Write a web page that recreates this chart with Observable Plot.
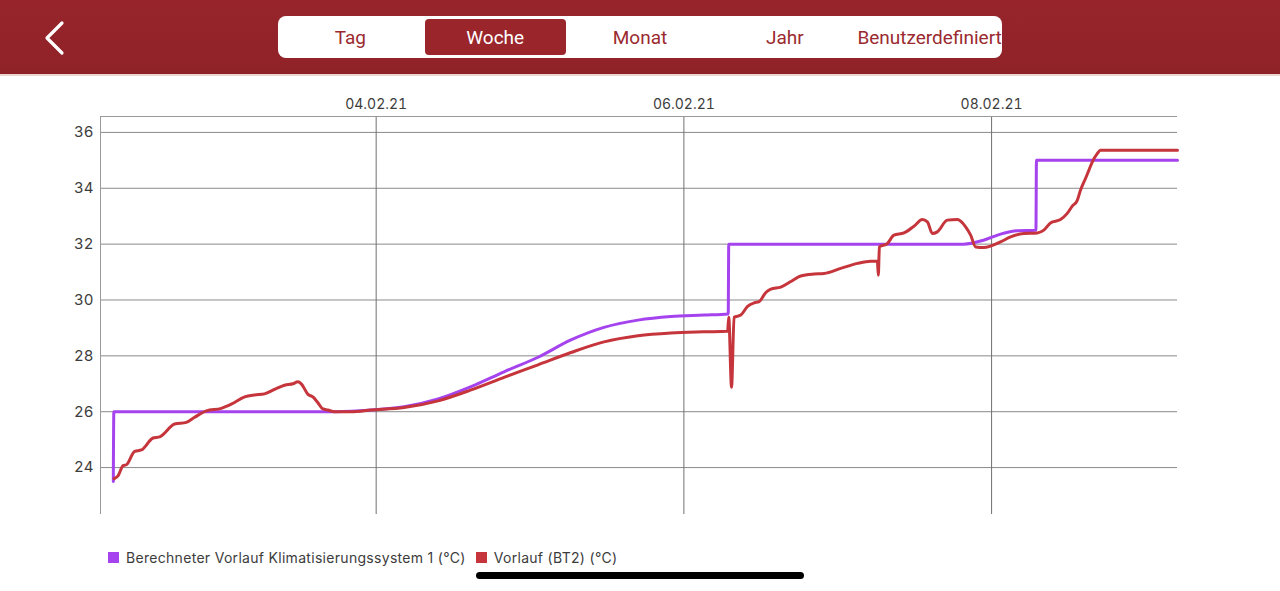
<!DOCTYPE html>
<html>
<head>
<meta charset="utf-8">
<script src="https://cdn.jsdelivr.net/npm/d3@7"></script>
<script src="https://cdn.jsdelivr.net/npm/@observablehq/plot@0.6"></script>
<style>
  html, body { margin: 0; padding: 0; background: #fff; width: 1280px; height: 591px; overflow: hidden; position: relative; }
  #header { position: absolute; left: 0; top: 0; width: 1280px; height: 74px; background: linear-gradient(#97242b, #8f2228); border-bottom: 2px solid #ecd6d0; }
  #back { position: absolute; left: 40px; top: 20px; }
  #seg { position: absolute; left: 278px; top: 16px; width: 724px; height: 42px; background: #fff; border-radius: 8px; display: flex; }
  .s { flex: 1; display: flex; align-items: center; justify-content: center; font-family: Roboto, sans-serif; font-size: 19px; color: #9a2a2f; position: relative; }
  .s.sel { color: #fff; }
  .s.sel::before { content: ""; position: absolute; left: 2px; right: 2px; top: 3px; bottom: 3px; background: #9a252b; border-radius: 4px; z-index: 0; }
  .s span { position: relative; z-index: 1; }
  #chart { position: absolute; left: 0; top: 76px; }
  #legend { position: absolute; left: 108px; top: 549px; font-family: Inter, "Liberation Sans", sans-serif; font-size: 14px; letter-spacing: 0.3px; color: #3c3c3c; display: flex; align-items: center; }
  .sw { width: 11px; height: 11px; display: inline-block; margin-right: 7px; }
  #home { position: absolute; left: 476px; top: 572px; width: 328px; height: 7px; border-radius: 4px; background: #000; }
</style>
</head>
<body>
<div id="header">
  <svg id="back" width="30" height="36" viewBox="0 0 30 36"><polyline points="22,3 7,18 22,33" fill="none" stroke="#fff" stroke-width="3.2" stroke-linecap="round" stroke-linejoin="round"/></svg>
  <div id="seg"></div>
</div>
<div id="chart"></div>
<div id="legend"></div>
<div id="home"></div>
<script>
// ---- data ----
const tabs = ["Tag", "Woche", "Monat", "Jahr", "Benutzerdefiniert"];
const selectedTab = "Woche";

const seriesNames = ["Berechneter Vorlauf Klimatisierungssystem 1 (°C)", "Vorlauf (BT2) (°C)"];
const seriesColors = ["#a543ee", "#c5353b"];

const xTickDates = ["2021-02-04T00:00", "2021-02-06T00:00", "2021-02-08T00:00"];
const yTickValues = [24, 26, 28, 30, 32, 34, 36];
const xRange = ["2021-02-02T05:00", "2021-02-09T05:00"];
const yRange = [22.32, 36.57];

const calcTimes = ["2021-02-02T07:00","2021-02-02T07:05","2021-02-03T17:46","2021-02-03T23:13","2021-02-04T04:22","2021-02-04T09:40","2021-02-04T14:48","2021-02-04T19:57","2021-02-05T01:15","2021-02-05T06:23","2021-02-05T11:32","2021-02-05T16:50","2021-02-05T21:58","2021-02-06T03:07","2021-02-06T06:55","2021-02-06T07:00","2021-02-07T19:38","2021-02-07T22:45","2021-02-08T01:24","2021-02-08T04:03","2021-02-08T06:55","2021-02-08T07:00","2021-02-09T05:00"];
const calcValues = [23.5,26.0,26.0,26.06,26.18,26.46,26.9,27.43,27.95,28.57,29.02,29.28,29.41,29.46,29.5,32.0,32.0,32.14,32.36,32.48,32.5,35.0,35.0];

const flowTimes = ["2021-02-02T07:07","2021-02-02T07:44","2021-02-02T08:31","2021-02-02T09:02","2021-02-02T10:20","2021-02-02T11:23","2021-02-02T13:12","2021-02-02T14:14","2021-02-02T16:34","2021-02-02T18:23","2021-02-02T19:41","2021-02-02T21:31","2021-02-02T23:50","2021-02-03T01:24","2021-02-03T03:29","2021-02-03T05:02","2021-02-03T06:35","2021-02-03T08:25","2021-02-03T09:43","2021-02-03T11:01","2021-02-03T11:48","2021-02-03T12:19","2021-02-03T13:22","2021-02-03T14:08","2021-02-03T14:55","2021-02-03T15:41","2021-02-03T16:28","2021-02-03T17:30","2021-02-03T20:06","2021-02-03T23:13","2021-02-04T04:22","2021-02-04T09:40","2021-02-04T14:48","2021-02-04T19:57","2021-02-05T01:15","2021-02-05T06:23","2021-02-05T11:32","2021-02-05T16:50","2021-02-05T21:58","2021-02-06T03:07","2021-02-06T06:49","2021-02-06T07:00","2021-02-06T07:26","2021-02-06T07:50","2021-02-06T08:53","2021-02-06T09:56","2021-02-06T10:58","2021-02-06T11:44","2021-02-06T12:47","2021-02-06T13:34","2021-02-06T15:07","2021-02-06T16:41","2021-02-06T18:14","2021-02-06T20:19","2021-02-06T21:52","2021-02-07T00:28","2021-02-07T03:04","2021-02-07T05:08","2021-02-07T06:11","2021-02-07T06:20","2021-02-07T06:30","2021-02-07T07:44","2021-02-07T08:46","2021-02-07T10:20","2021-02-07T11:53","2021-02-07T13:12","2021-02-07T13:59","2021-02-07T14:46","2021-02-07T15:32","2021-02-07T17:06","2021-02-07T18:40","2021-02-07T19:57","2021-02-07T20:44","2021-02-07T21:31","2021-02-07T22:48","2021-02-07T23:50","2021-02-08T01:24","2021-02-08T02:58","2021-02-08T05:02","2021-02-08T07:07","2021-02-08T08:09","2021-02-08T09:11","2021-02-08T10:45","2021-02-08T11:48","2021-02-08T12:35","2021-02-08T13:22","2021-02-08T13:52","2021-02-08T14:39","2021-02-08T15:10","2021-02-08T15:42","2021-02-08T16:29","2021-02-08T16:59","2021-02-09T05:00"];
const flowValues = [23.6,23.7,24.07,24.1,24.58,24.63,25.06,25.1,25.56,25.62,25.8,26.03,26.12,26.27,26.53,26.6,26.64,26.83,26.95,27.0,27.07,27.0,26.62,26.53,26.32,26.1,26.06,26.0,26.0,26.06,26.15,26.39,26.78,27.23,27.68,28.12,28.5,28.72,28.82,28.86,28.88,29.38,26.88,29.38,29.46,29.77,29.9,29.94,30.27,30.39,30.46,30.66,30.86,30.93,30.95,31.13,31.31,31.39,31.39,30.89,31.9,32.02,32.32,32.4,32.64,32.88,32.8,32.38,32.44,32.86,32.88,32.62,32.32,31.9,31.88,31.93,32.08,32.26,32.38,32.4,32.5,32.76,32.88,33.1,33.36,33.57,33.93,34.35,34.64,34.94,35.24,35.36,35.36];

// ---- build ----
const T = s => new Date(s + "Z");
const calc = calcTimes.map((t, i) => ({time: T(t), value: calcValues[i]}));
const flow = flowTimes.map((t, i) => ({time: T(t), value: flowValues[i]}));
const xTicks = xTickDates.map(T);
const xDomain = xRange.map(T);

const seg = document.getElementById("seg");
tabs.forEach(t => {
  const d = document.createElement("div");
  d.className = "s" + (t === selectedTab ? " sel" : "");
  const sp = document.createElement("span");
  sp.textContent = t;
  d.appendChild(sp);
  seg.appendChild(d);
});

const fmt = d3.utcFormat("%d.%m.%y");
const chart = Plot.plot({
  width: 1280,
  height: 450,
  marginLeft: 100,
  marginRight: 103,
  marginTop: 40,
  marginBottom: 12,
  x: {type: "utc", domain: xDomain, label: null},
  y: {domain: yRange, label: null},
  style: {fontFamily: "Inter, 'Liberation Sans', sans-serif", fontSize: "14px", color: "#3c3c3c", background: "transparent", overflow: "visible"},
  marks: [
    Plot.ruleY(yTickValues, {stroke: "#8a8a8a", strokeWidth: 1}),
    Plot.ruleX(xTicks, {stroke: "#707070", strokeWidth: 1}),
    Plot.ruleX([xDomain[0]], {stroke: "#9a9a9a", strokeWidth: 1}),
    Plot.ruleY([yRange[1]], {stroke: "#9a9a9a", strokeWidth: 1}),
    Plot.axisX({anchor: "top", ticks: xTicks, tickSize: 0, tickPadding: 8, tickFormat: fmt, fontSize: 14, label: null}),
    Plot.axisY({anchor: "left", ticks: yTickValues, tickSize: 0, tickPadding: 7, fontSize: 15, label: null}),
    Plot.line(calc, {x: "time", y: "value", stroke: seriesColors[0], strokeWidth: 3, curve: "monotone-x"}),
    Plot.line(flow, {x: "time", y: "value", stroke: seriesColors[1], strokeWidth: 3, curve: "monotone-x"})
  ]
});
document.getElementById("chart").appendChild(chart);

const legend = document.getElementById("legend");
seriesNames.forEach((n, i) => {
  const item = document.createElement("span");
  item.style.display = "inline-flex";
  item.style.alignItems = "center";
  item.style.marginRight = "10px";
  const sw = document.createElement("span");
  sw.className = "sw";
  sw.style.background = seriesColors[i];
  const tx = document.createElement("span");
  tx.textContent = n;
  item.appendChild(sw);
  item.appendChild(tx);
  legend.appendChild(item);
});
</script>
</body>
</html>
